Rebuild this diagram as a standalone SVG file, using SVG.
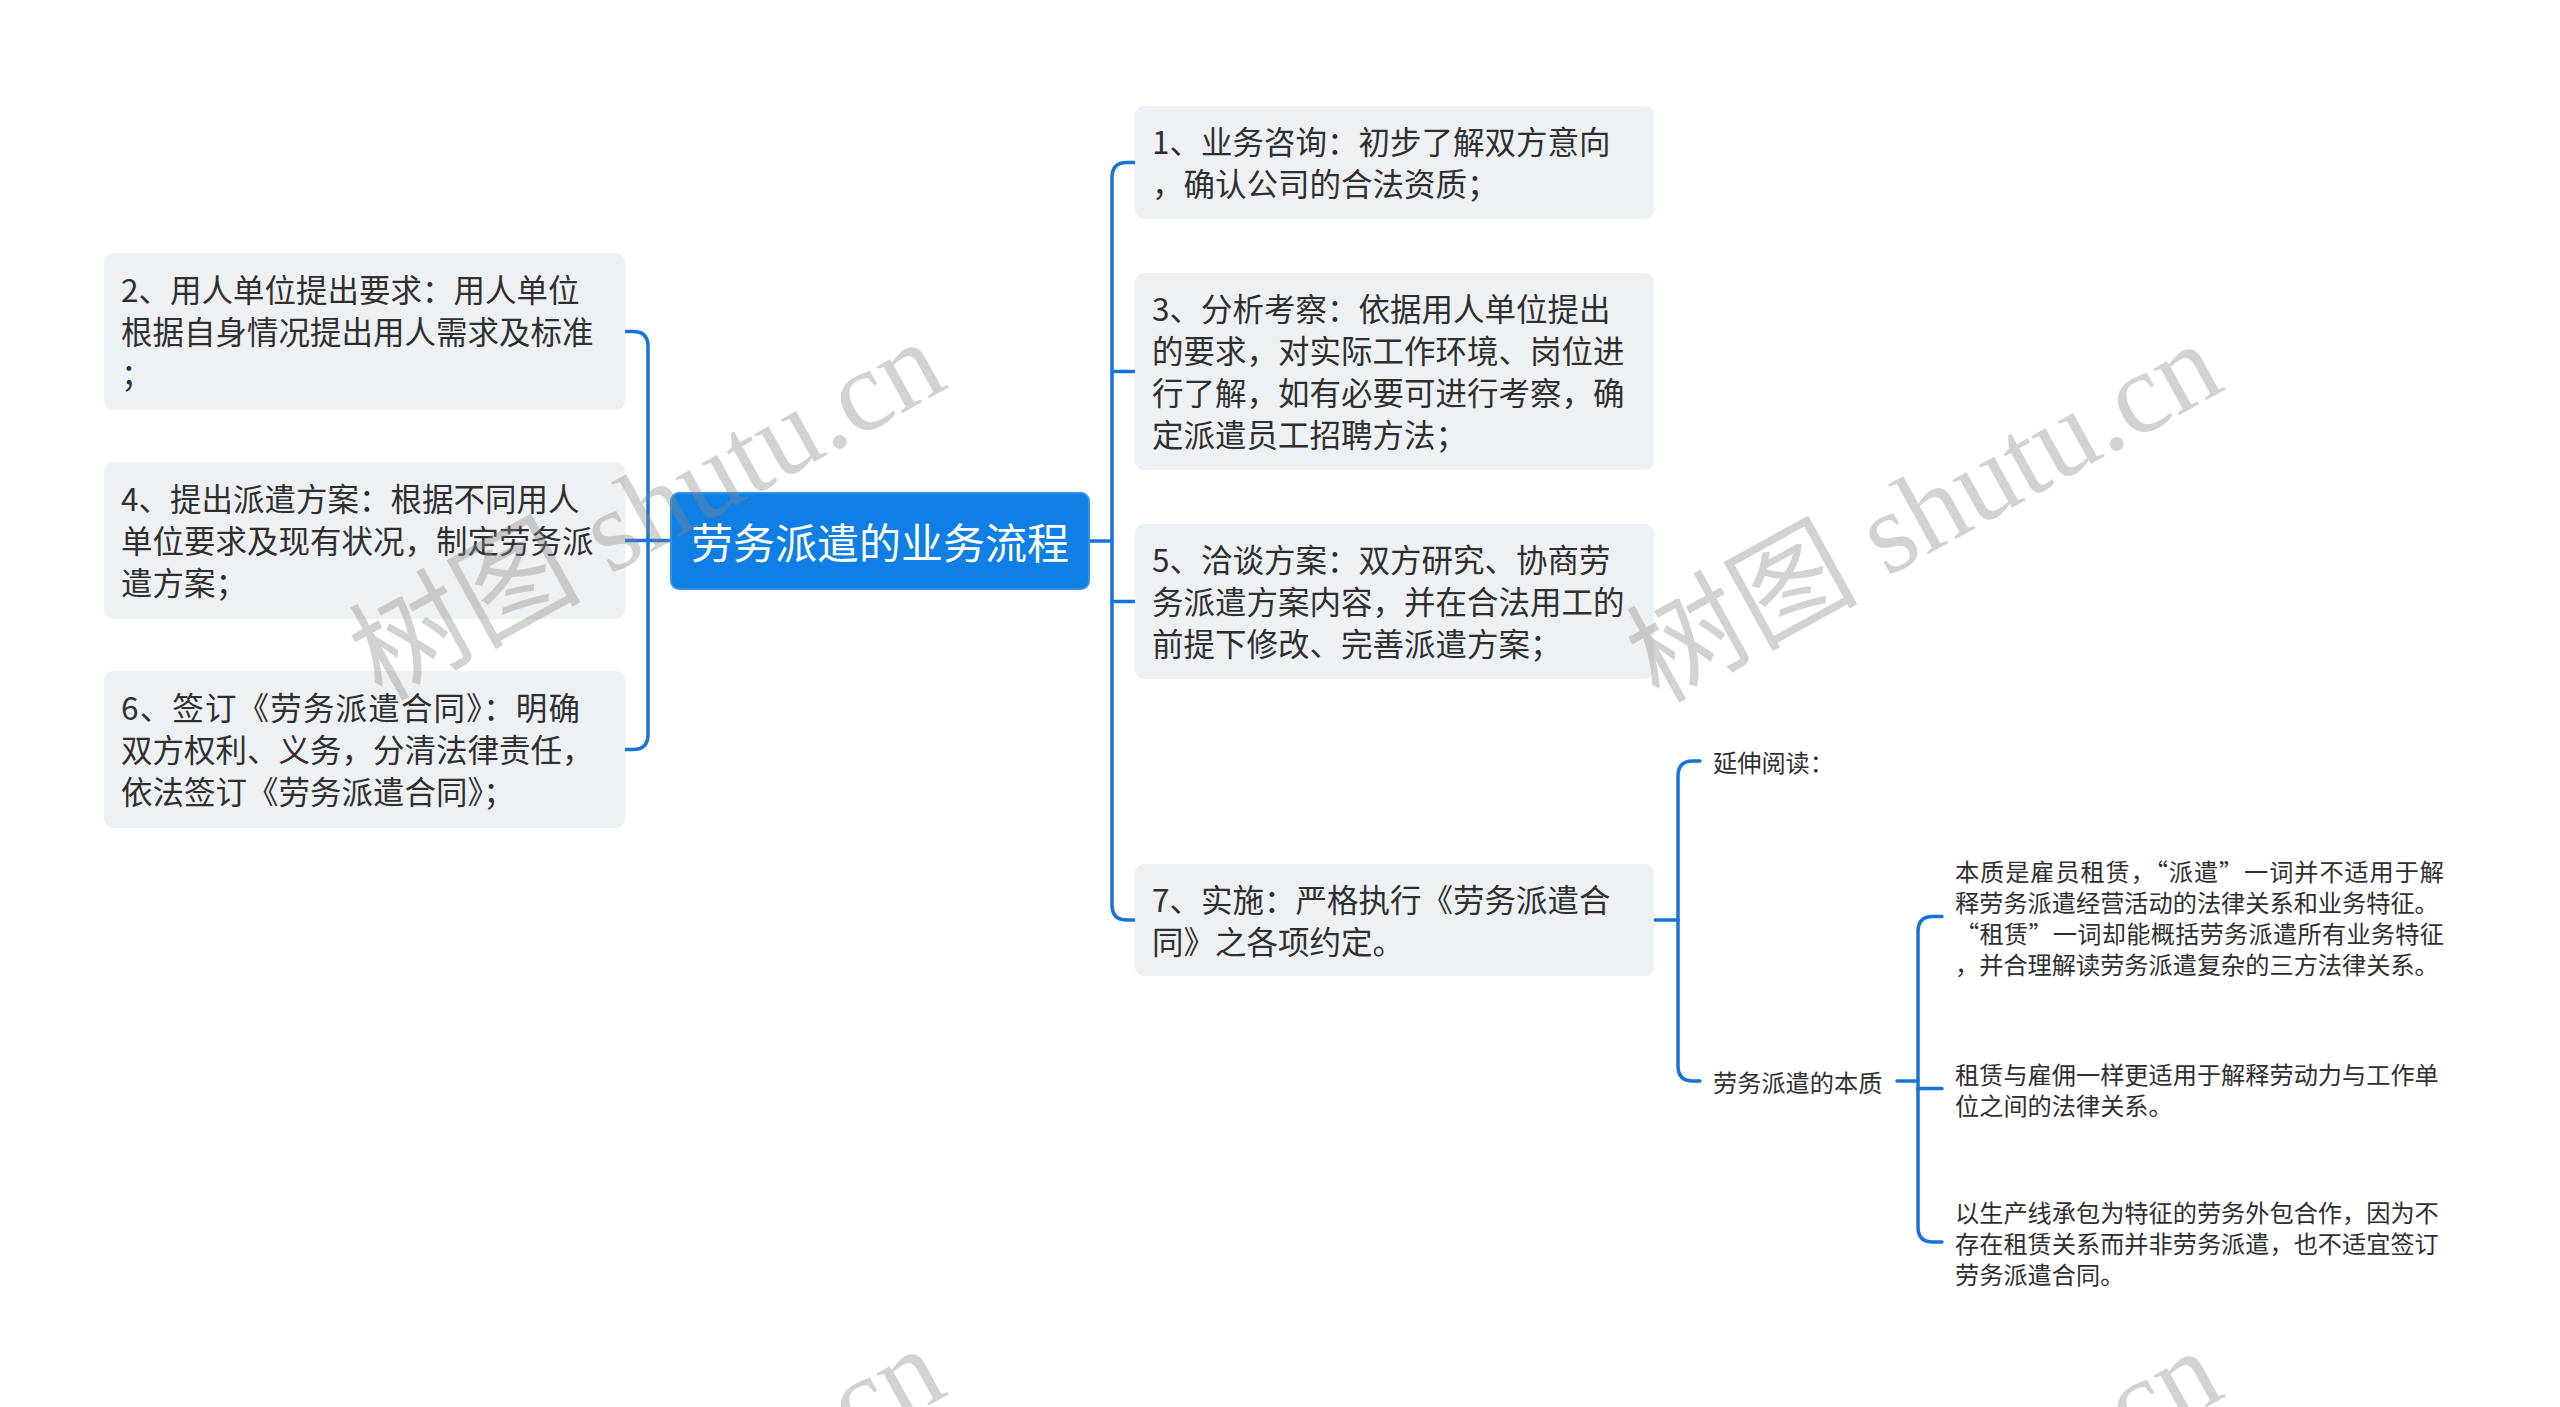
<svg xmlns="http://www.w3.org/2000/svg" width="2560" height="1407" viewBox="0 0 2560 1407">
<style>
.bg{fill:#ffffff}
.box{fill:#eef1f4}
.root{fill:#0f7fe6;stroke:#3391ec;stroke-width:2}
.t{font-family:"Noto Sans CJK SC","Noto Sans",sans-serif;font-size:31.5px;fill:#2f2f2f;dominant-baseline:central}
.rt{font-family:"Noto Sans CJK SC","Noto Sans",sans-serif;font-size:42px;fill:#ffffff;dominant-baseline:central;text-anchor:middle}
.s{font-family:"Noto Sans CJK SC","Noto Sans",sans-serif;font-size:24.2px;fill:#2f2f2f;dominant-baseline:central}
.c{fill:none;stroke:#1673d8;stroke-width:3.5;stroke-linecap:round;stroke-linejoin:round}
.wm{font-family:"Liberation Serif","Noto Sans CJK SC",serif;font-size:116px;fill:#888888;fill-opacity:0.38;text-anchor:middle;dominant-baseline:central}
</style>
<rect class="bg" x="0" y="0" width="2560" height="1407"/>

<g id="connectors">
  <path class="c" d="M671,540.5 H625"/>
  <path class="c" d="M625,331.5 H633 Q648,331.5 648,346.5 V734.5 Q648,749.5 633,749.5 H625"/>
  <path class="c" d="M1089,541 H1112"/>
  <path class="c" d="M1135,162.5 H1127 Q1112,162.5 1112,177.5 V905 Q1112,920 1127,920 H1135"/>
  <path class="c" d="M1112,371.5 H1135"/>
  <path class="c" d="M1112,601.5 H1135"/>
  <path class="c" d="M1654,920 H1678"/>
  <path class="c" d="M1700,761 H1693 Q1678,761 1678,776 V1066 Q1678,1081 1693,1081 H1700"/>
  <path class="c" d="M1897,1081 H1918"/>
  <path class="c" d="M1942,916.5 H1933 Q1918,916.5 1918,931.5 V1227 Q1918,1242 1933,1242 H1942"/>
  <path class="c" d="M1918,1088.5 H1942"/>
</g>

<g id="root">
  <rect class="root" x="671" y="493" width="418" height="96" rx="8"/>
  <text class="rt" x="880" y="540">劳务派遣的业务流程</text>
</g>

<g id="n2">
  <rect class="box" x="104" y="253" width="521" height="157" rx="9"/>
  <text class="t" x="121" y="288">2、用人单位提出要求：用人单位</text>
  <text class="t" x="121" y="330">根据自身情况提出用人需求及标准</text>
  <text class="t" x="121" y="372">；</text>
</g>
<g id="n4">
  <rect class="box" x="104" y="462" width="521" height="157" rx="9"/>
  <text class="t" x="121" y="497">4、提出派遣方案：根据不同用人</text>
  <text class="t" x="121" y="539">单位要求及现有状况，制定劳务派</text>
  <text class="t" x="121" y="581">遣方案；</text>
</g>
<g id="n6">
  <rect class="box" x="104" y="671" width="521" height="157" rx="9"/>
  <text class="t" x="121" y="706" textLength="459" lengthAdjust="spacing">6、签订《劳务派遣合同》：明确</text>
  <text class="t" x="121" y="748">双方权利、义务，分清法律责任，</text>
  <text class="t" x="121" y="790">依法签订《劳务派遣合同》；</text>
</g>

<g id="n1">
  <rect class="box" x="1135" y="106" width="519" height="113" rx="9"/>
  <text class="t" x="1152" y="140">1、业务咨询：初步了解双方意向</text>
  <text class="t" x="1152" y="182">，确认公司的合法资质；</text>
</g>
<g id="n3">
  <rect class="box" x="1135" y="273" width="519" height="197" rx="9"/>
  <text class="t" x="1152" y="307">3、分析考察：依据用人单位提出</text>
  <text class="t" x="1152" y="349">的要求，对实际工作环境、岗位进</text>
  <text class="t" x="1152" y="391">行了解，如有必要可进行考察，确</text>
  <text class="t" x="1152" y="433">定派遣员工招聘方法；</text>
</g>
<g id="n5">
  <rect class="box" x="1135" y="524" width="519" height="155" rx="9"/>
  <text class="t" x="1152" y="558">5、洽谈方案：双方研究、协商劳</text>
  <text class="t" x="1152" y="600">务派遣方案内容，并在合法用工的</text>
  <text class="t" x="1152" y="642">前提下修改、完善派遣方案；</text>
</g>
<g id="n7">
  <rect class="box" x="1135" y="864" width="519" height="112" rx="9"/>
  <text class="t" x="1152" y="898">7、实施：严格执行《劳务派遣合</text>
  <text class="t" x="1152" y="940">同》之各项约定。</text>
</g>

<g id="n_ext">
  <text class="s" x="1713" y="761">延伸阅读：</text>
</g>
<g id="n_essence">
  <text class="s" x="1713" y="1081">劳务派遣的本质</text>
</g>
<g id="n_a">
  <text class="s" x="1955" y="870" textLength="489" lengthAdjust="spacing">本质是雇员租赁，“派遣”一词并不适用于解</text>
  <text class="s" x="1955" y="901">释劳务派遣经营活动的法律关系和业务特征。</text>
  <text class="s" x="1955" y="932" textLength="489" lengthAdjust="spacing">“租赁”一词却能概括劳务派遣所有业务特征</text>
  <text class="s" x="1955" y="963">，并合理解读劳务派遣复杂的三方法律关系。</text>
</g>
<g id="n_b">
  <text class="s" x="1955" y="1073">租赁与雇佣一样更适用于解释劳动力与工作单</text>
  <text class="s" x="1955" y="1104">位之间的法律关系。</text>
</g>
<g id="n_c">
  <text class="s" x="1955" y="1211">以生产线承包为特征的劳务外包合作，因为不</text>
  <text class="s" x="1955" y="1242">存在租赁关系而并非劳务派遣，也不适宜签订</text>
  <text class="s" x="1955" y="1273">劳务派遣合同。</text>
</g>

<g id="watermarks">
  <text class="wm" transform="translate(647,510) rotate(-29)">树图 shutu.cn</text>
  <text class="wm" transform="translate(1924,512) rotate(-29)">树图 shutu.cn</text>
  <text class="wm" transform="translate(647,1517) rotate(-29)">树图 shutu.cn</text>
  <text class="wm" transform="translate(1924,1519) rotate(-29)">树图 shutu.cn</text>
</g>
</svg>
